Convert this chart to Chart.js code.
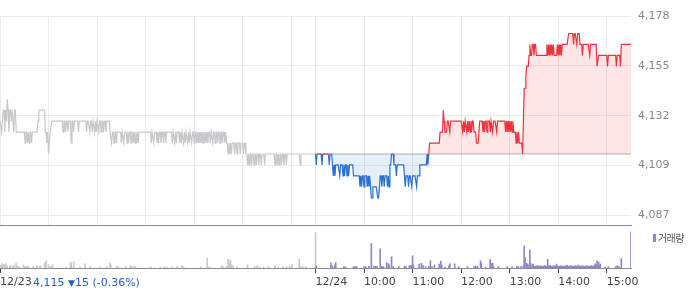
<!DOCTYPE html>
<html>
<head>
<meta charset="utf-8">
<script src="https://cdn.jsdelivr.net/npm/chart.js@4.4.1/dist/chart.umd.min.js"></script>
<style>
  body { margin: 0; background: #fff; }
  #wrap { position: relative; width: 700px; height: 289px; overflow: hidden; font-family: "DejaVu Sans", sans-serif; }
  #price { position: absolute; left: 0; top: 0; }
  #volume { position: absolute; left: 0; top: 226px; }
  #change { position: absolute; left: 33px; top: 276px; font-size: 11px; line-height: 13px; color: #1f5fd2; white-space: nowrap; }
  #change .arrow { font-size: 9px; }
  #legendMark { position: absolute; left: 653px; top: 234px; width: 3px; height: 8px; background: #9583c8; }
  #legendText { position: absolute; left: 658px; top: 231px; font-family: "Noto Sans CJK KR", sans-serif; font-size: 10px; line-height: 14px; letter-spacing: -0.6px; color: #555; }
</style>
</head>
<body>
<div id="wrap">
  <canvas id="price" width="700" height="226"></canvas>
  <canvas id="volume" width="700" height="63"></canvas>
  <div id="change">4,115 <span class="arrow">▼</span>15 (-0.36%)</div>
  <div id="legendMark"></div>
  <div id="legendText">거래량</div>
</div>
<script>
var PREV_CLOSE = 4115;
var DAY_MINUTES = 390; // 09:00 - 15:30
var RED = '#f0323c';
var BLUE = '#2a6fd4';
var GRAY = '#c6c8cc';
var PURPLE = '#9583c8';

// 12/23, one value per minute from 09:00
var day1Price = [
  4130,4130,4125,4130,4135,4135,4125,4135,4130,4140, 4135,4125,4135,4135,4130,4135,4135,4125,4135,4135,
  4125,4125,4125,4125,4125,4125,4125,4125,4125,4125, 4125,4120,4125,4125,4120,4125,4120,4125,4125,4120,
  4125,4125,4125,4125,4125,4125,4125,4130,4135,4135, 4135,4135,4135,4135,4135,4135,4125,4125,4120,4125,
  4115,4120,4125,4125,4130,4130,4130,4130,4130,4130, 4130,4130,4130,4130,4130,4130,4130,4130,4125,4130,
  4130,4125,4130,4130,4125,4130,4130,4130,4120,4130, 4130,4125,4130,4130,4130,4130,4130,4125,4130,4130,
  4130,4130,4130,4130,4130,4130,4130,4125,4130,4130, 4130,4125,4130,4130,4125,4130,4130,4125,4130,4125,
  4130,4130,4125,4130,4130,4125,4130,4130,4125,4130, 4130,4125,4130,4130,4130,4130,4125,4125,4120,4125,
  4125,4120,4125,4125,4120,4125,4125,4125,4125,4125, 4120,4125,4125,4120,4125,4125,4125,4120,4125,4120,
  4125,4125,4120,4125,4125,4120,4125,4120,4125,4120, 4125,4120,4125,4125,4125,4125,4125,4125,4125,4125,
  4125,4125,4125,4125,4125,4125,4125,4120,4125,4125, 4120,4125,4125,4125,4120,4125,4120,4125,4125,4120,
  4125,4125,4120,4125,4125,4120,4125,4125,4125,4125, 4125,4125,4125,4120,4125,4125,4120,4125,4120,4125,
  4125,4125,4120,4125,4120,4125,4125,4120,4125,4120, 4125,4125,4120,4125,4120,4125,4125,4120,4125,4125,
  4120,4125,4125,4120,4125,4120,4125,4120,4125,4120, 4125,4120,4125,4120,4125,4120,4125,4120,4125,4125,
  4120,4125,4125,4120,4125,4125,4120,4125,4125,4120, 4125,4125,4120,4125,4125,4120,4125,4125,4120,4125,
  4120,4120,4115,4120,4115,4120,4115,4120,4120,4120, 4115,4120,4120,4115,4120,4120,4120,4115,4120,4120,
  4120,4115,4120,4120,4115,4115,4110,4115,4110,4115, 4115,4110,4115,4115,4110,4115,4115,4110,4115,4115,
  4110,4115,4115,4110,4115,4115,4115,4110,4115,4115, 4115,4115,4115,4115,4115,4115,4115,4115,4115,4115,
  4110,4115,4115,4110,4115,4110,4115,4115,4110,4115, 4115,4110,4115,4115,4110,4115,4115,4115,4115,4115,
  4115,4115,4115,4115,4115,4115,4115,4115,4115,4115, 4115,4110,4115,4115,4115,4115,4115,4115,4115,4115,
  4115,4115,4115,4115,4115,4115,4115,4115,4115,4115, 4115
];

// 12/24, one value per minute from 09:00
var day2Price = [
  4115,4110,4115,4115,4115,4115,4115,4115,4110,4115, 4115,4115,4115,4115,4115,4115,4115,4110,4115,4115,
  4115,4110,4105,4110,4105,4110,4110,4110,4110,4110, 4105,4110,4110,4110,4105,4110,4105,4110,4110,4105,
  4110,4105,4110,4110,4110,4110,4110,4105,4105,4105, 4105,4105,4105,4105,4105,4100,4105,4100,4105,4105,
  4100,4105,4105,4105,4100,4105,4100,4105,4100,4095, 4095,4100,4100,4100,4100,4100,4100,4095,4095,4100,
  4105,4105,4100,4105,4105,4100,4105,4105,4105,4100, 4105,4100,4110,4110,4115,4115,4115,4110,4110,4110,
  4105,4110,4110,4110,4110,4110,4110,4110,4110,4110, 4105,4100,4105,4105,4105,4100,4105,4105,4105,4100,
  4105,4105,4105,4105,4105,4100,4105,4105,4105,4110, 4110,4110,4110,4110,4110,4110,4110,4110,4115,4110,
  4115,4120,4120,4120,4120,4120,4120,4120,4120,4120, 4120,4120,4120,4120,4125,4125,4125,4125,4135,4130,
  4125,4125,4125,4130,4130,4130,4125,4130,4130,4130, 4130,4130,4130,4130,4130,4130,4130,4130,4130,4130,
  4130,4130,4125,4130,4125,4130,4130,4125,4130,4125, 4130,4125,4130,4125,4130,4130,4125,4125,4125,4120,
  4120,4120,4120,4130,4130,4130,4130,4125,4130,4125, 4130,4130,4125,4130,4130,4130,4125,4130,4130,4125,
  4130,4130,4130,4130,4125,4130,4130,4130,4130,4130, 4130,4130,4130,4130,4130,4125,4130,4125,4130,4125,
  4130,4125,4130,4125,4130,4125,4125,4125,4120,4125, 4120,4125,4120,4120,4120,4120,4115,4130,4145,4145,
  4150,4155,4155,4155,4160,4165,4160,4160,4165,4165, 4160,4165,4165,4160,4160,4160,4160,4160,4160,4160,
  4160,4160,4160,4160,4160,4160,4165,4160,4165,4160, 4165,4160,4165,4160,4165,4160,4160,4160,4160,4165,
  4160,4165,4160,4165,4160,4165,4165,4165,4165,4165, 4165,4165,4165,4170,4170,4170,4170,4170,4170,4165,
  4170,4170,4170,4165,4170,4170,4170,4165,4165,4165, 4160,4165,4165,4165,4165,4165,4165,4165,4165,4160,
  4165,4165,4165,4165,4165,4165,4165,4165,4155,4155, 4160,4160,4160,4160,4160,4160,4160,4160,4160,4160,
  4160,4155,4160,4160,4160,4160,4160,4160,4160,4160, 4160,4160,4155,4160,4160,4160,4160,4155,4165,4165,
  4165,4165,4165,4165,4165,4165,4165,4165,4165,4165, 4165
];

// volume bars: minute after 09:00 and shares
var volDay1Minutes = [1, 3, 5, 7, 9, 12, 13, 16, 17, 20, 21, 24, 29, 31, 33, 35, 41, 46, 49, 50,
  55, 57, 60, 63, 65, 82, 87, 88, 91, 99, 105, 111, 124, 132, 136, 137, 144, 146, 156, 161,
  163, 166, 167, 186, 198, 203, 206, 213, 219, 225, 227, 248, 256, 259, 274, 276, 280, 282, 283, 285,
  286, 288, 293, 306, 315, 318, 321, 326, 332, 340, 344, 350, 354, 358, 361, 370, 372, 375, 378, 390];
var volDay1Values = [840, 1200, 930, 1200, 560, 470, 650, 470, 840, 1400, 650, 370, 840, 370, 470, 560, 370, 650, 470, 650,
  1400, 2040, 930, 470, 930, 280, 1480, 1480, 1760, 280, 1200, 370, 280, 370, 1480, 840, 370, 370, 370, 650,
  370, 560, 370, 370, 280, 370, 370, 280, 370, 650, 370, 370, 2700, 370, 650, 370, 470, 2430, 1870, 2150,
  840, 650, 370, 930, 370, 650, 370, 370, 370, 650, 280, 370, 370, 470, 930, 2430, 370, 370, 370, 9960];

var volDay2Minutes = [1, 19, 21, 24, 25, 35, 37, 47, 49, 51, 60, 62, 66, 69, 72, 74, 76, 80, 82, 84,
  88, 90, 91, 94, 96, 103, 110, 112, 116, 118, 120, 121, 128, 131, 133, 136, 140, 142, 144, 147,
  153, 155, 156, 160, 165, 166, 172, 177, 188, 196, 198, 200, 204, 205, 210, 216, 217, 219, 220, 226,
  237, 243, 249, 251, 254, 257, 258, 259, 261, 262, 264, 265, 266, 268, 269, 271,
  272, 273, 274, 275, 276, 277, 278, 279, 280, 281, 282, 283, 284, 285, 286, 287, 288, 289, 290, 291,
  292, 293, 294, 295, 296, 297, 298, 299, 300, 301, 302, 303, 304, 305, 306, 307, 308, 309, 310, 311,
  312, 313, 314, 315, 316, 317, 318, 319, 320, 321, 322, 323, 324, 325, 326, 327, 328, 329, 330, 331,
  332, 333, 334, 335, 336, 337, 338, 339, 340, 341, 342, 343, 344, 345, 346, 347, 348, 349, 350, 351,
  352, 358, 362, 371, 373, 375, 378, 390];
var volDay2Values = [650, 1480, 650, 840, 1480, 370, 370, 370, 370, 370, 370, 370, 470, 6890, 470, 470, 470, 5390, 470, 370,
  1480, 1200, 840, 3150, 370, 370, 560, 370, 650, 750, 3430, 840, 1120, 1310, 650, 370, 470, 2040, 370, 840,
  1120, 1950, 840, 280, 650, 1200, 1200, 370, 370, 370, 560, 470, 2040, 1310, 280, 2430, 1400, 1310, 370, 370,
  370, 370, 470, 370, 470, 650, 6220, 2870, 1310, 1120, 840, 5110, 1310, 840, 1120, 470,
  560, 370, 650, 470, 560, 370, 650, 470, 560, 370, 470, 650, 560, 370, 470, 2430, 560, 470, 650, 370,
  560, 470, 370, 650, 470, 560, 1120, 470, 370, 560, 470, 650, 370, 560, 470, 370, 650, 470, 560, 840,
  470, 370, 560, 470, 650, 370, 470, 560, 370, 650, 470, 560, 370, 840, 470, 560, 370, 470, 650, 370,
  560, 470, 370, 650, 470, 560, 370, 470, 560, 650, 470, 370, 560, 840, 1200, 650, 2040, 840, 1670, 560,
  1120, 280, 370, 370, 650, 370, 2700, 10130];

var gridMinutes = [0, 60, 120, 180, 240, 300, 360, 390, 450, 510, 570, 630, 690, 750];
var axisMinutes = [0, 390, 450, 510, 570, 630, 690, 750];
var axisLabels = ['12/23', '12/24', '10:00', '11:00', '12:00', '13:00', '14:00', '15:00'];
var priceTicks = [4087, 4109.75, 4132.5, 4155.25, 4178];

var labelFont = { family: 'DejaVu Sans', size: 11 };

function toPoints(values, offset) {
  return values.map(function (v, i) { return { x: offset + i, y: v }; });
}

var ctx = document.getElementById('price');
var priceChart = new Chart(ctx, {
  type: 'line',
  data: {
    datasets: [{
      label: '12/24',
      data: toPoints(day2Price, DAY_MINUTES),
      borderColor: RED,
      borderWidth: 1.2,
      pointRadius: 0,
      tension: 0,
      order: 0,
      fill: { target: { value: PREV_CLOSE }, above: 'rgba(245, 60, 70, 0.13)', below: 'rgba(60, 120, 220, 0.13)' },
      segment: {
        borderColor: function (c) {
          return (c.p0.parsed.y < PREV_CLOSE || c.p1.parsed.y < PREV_CLOSE) ? BLUE : RED;
        }
      }
    }, {
      label: 'prev close',
      data: [{ x: DAY_MINUTES, y: PREV_CLOSE }, { x: 2 * DAY_MINUTES, y: PREV_CLOSE }],
      borderColor: '#666',
      borderWidth: 1,
      borderDash: [1, 1],
      pointRadius: 0,
      fill: false,
      order: 1
    }, {
      label: '12/23',
      data: toPoints(day1Price, 0),
      borderColor: GRAY,
      borderWidth: 1.2,
      pointRadius: 0,
      tension: 0,
      fill: false,
      order: 2
    }]
  },
  options: {
    responsive: false,
    animation: false,
    layout: { padding: { top: 16, bottom: 1, left: 0, right: 0 } },
    plugins: {
      legend: { display: false },
      tooltip: { enabled: false },
      filler: { drawTime: 'beforeDatasetsDraw' }
    },
    scales: {
      x: {
        type: 'linear',
        min: 0,
        max: 2 * DAY_MINUTES,
        grid: { color: '#ebebeb', drawTicks: false },
        border: { color: '#8c8c8c' },
        ticks: { display: false, autoSkip: false },
        afterBuildTicks: function (s) {
          s.ticks = gridMinutes.map(function (m) { return { value: m }; });
        },
        afterFit: function (s) { s.height = 0; }
      },
      y: {
        position: 'right',
        min: 4082.57,
        max: 4178,
        grid: { color: '#ebebeb', drawTicks: false },
        border: { display: false },
        ticks: {
          padding: 7,
          color: '#888',
          font: labelFont,
          callback: function (v) { return Math.floor(v).toLocaleString('en-US'); }
        },
        afterBuildTicks: function (s) {
          s.ticks = priceTicks.map(function (v) { return { value: v }; });
        },
        afterFit: function (s) { s.width = 69; s.paddingTop = 0; s.paddingBottom = 0; }
      }
    }
  }
});

function volPoints(minutes, values, offset) {
  return minutes.map(function (m, i) { return { x: offset + m, y: values[i] }; });
}

var volumeChart = new Chart(document.getElementById('volume'), {
  type: 'bar',
  data: {
    datasets: [{
      label: '거래량',
      data: volPoints(volDay2Minutes, volDay2Values, DAY_MINUTES),
      backgroundColor: PURPLE
    }, {
      label: '12/23',
      data: volPoints(volDay1Minutes, volDay1Values, 0),
      backgroundColor: GRAY
    }]
  },
  options: {
    responsive: false,
    animation: false,
    layout: { padding: { top: 0, right: 69, left: 0, bottom: 0 } },
    datasets: { bar: { barThickness: 1, grouped: false, borderWidth: 0 } },
    plugins: { legend: { display: false }, tooltip: { enabled: false } },
    scales: {
      x: {
        type: 'linear',
        min: 0,
        max: 2 * DAY_MINUTES,
        offset: false,
        grid: { offset: false, drawOnChartArea: false, drawTicks: true, tickLength: 5, tickColor: '#444' },
        border: { color: '#8c8c8c' },
        ticks: {
          autoSkip: false,
          maxRotation: 0,
          align: 'start',
          padding: 3,
          color: '#444',
          font: labelFont,
          callback: function (v, i) { return axisLabels[i]; }
        },
        afterBuildTicks: function (s) {
          s.ticks = axisMinutes.map(function (m) { return { value: m }; });
        },
        afterFit: function (s) { s.height = 21; s.paddingLeft = 0; s.paddingRight = 0; }
      },
      y: { display: false, min: 0, max: 11800 }
    }
  }
});
</script>
</body>
</html>
